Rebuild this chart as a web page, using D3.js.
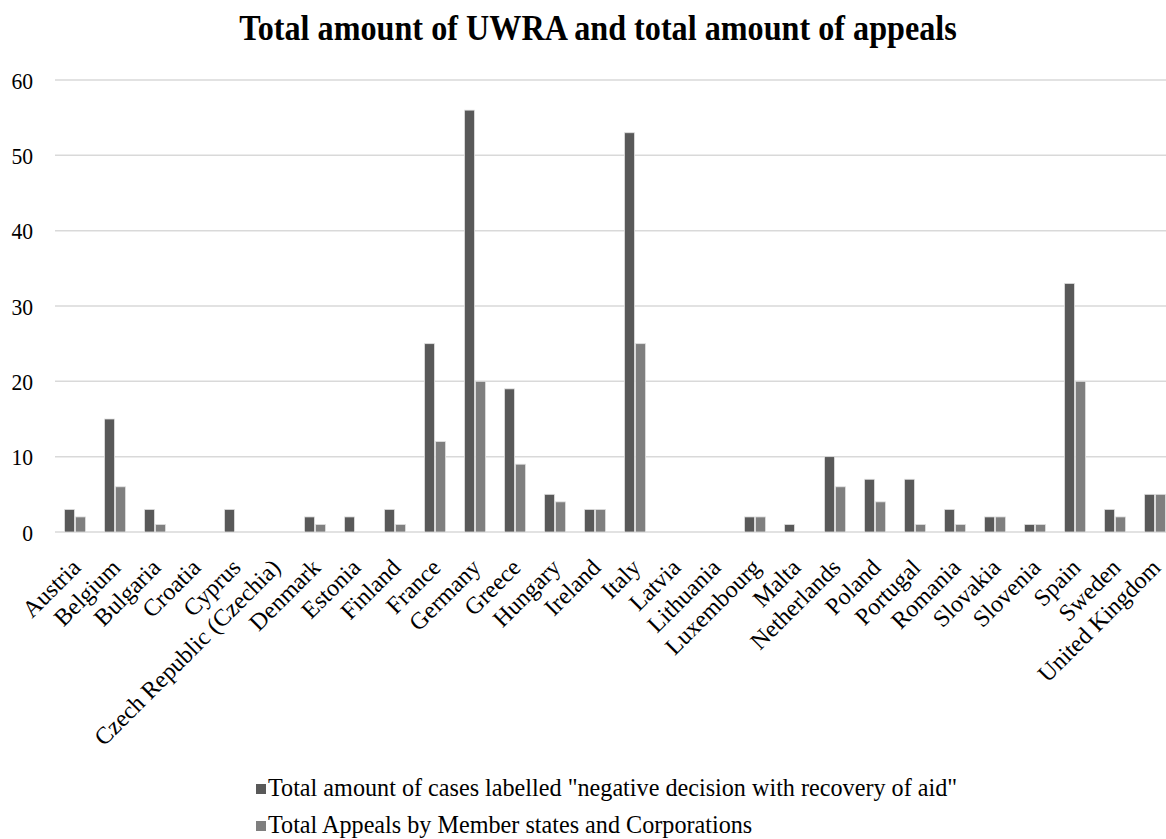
<!DOCTYPE html>
<html>
<head>
<meta charset="utf-8">
<script src="https://cdn.jsdelivr.net/npm/d3@7"></script>
<style>
  html, body { margin: 0; padding: 0; background: #fff; }
  svg { display: block; }
  text { font-family: "Liberation Serif", "Times New Roman", serif; fill: #000; }
</style>
</head>
<body>
<script>
const countries = ["Austria","Belgium","Bulgaria","Croatia","Cyprus","Czech Republic (Czechia)","Denmark","Estonia","Finland","France","Germany","Greece","Hungary","Ireland","Italy","Latvia","Lithuania","Luxembourg","Malta","Netherlands","Poland","Portugal","Romania","Slovakia","Slovenia","Spain","Sweden","United Kingdom"];
const uwra    = [3,15,3,0,3,0,2,2,3,25,56,19,5,3,53,0,0,2,1,10,7,7,3,2,1,33,3,5];
const appeals = [2,6,1,0,0,0,1,0,1,12,20,9,4,3,25,0,0,2,0,6,4,1,1,2,1,20,2,5];
const seriesNames = ['Total amount of cases labelled "negative decision with recovery of aid"', 'Total Appeals by Member states and Corporations'];
const seriesColors = ["#595959", "#7f7f7f"];
const yTicks = [0,10,20,30,40,50,60];
const title = "Total amount of UWRA and total amount of appeals";

const W = 1166, H = 839;
const SX = 0.9; // horizontal text compression seen in the reference
const svg = d3.select("body").append("svg").attr("width", W).attr("height", H);

const x0 = d3.scaleBand().domain(countries).range([55, 1175]).paddingInner(0.475).paddingOuter(0.2375);
const x1 = d3.scaleBand().domain([0,1]).range([0, x0.bandwidth()]).paddingInner(0.1);
const y = d3.scaleLinear().domain([0, 60]).range([532, 80]);

// title
svg.append("text").attr("transform", `translate(598,40) scale(0.92,1)`).attr("text-anchor", "middle")
  .style("font-size", "35px").style("font-weight", "bold").text(title);

// gridlines
svg.append("g").selectAll("line").data(yTicks).join("line")
  .attr("x1", 55).attr("x2", W).attr("y1", d => y(d)).attr("y2", d => y(d))
  .attr("stroke", "#d9d9d9").attr("stroke-width", 1.5);

// y axis labels
const yAxis = d3.axisLeft(y).tickValues(yTicks).tickSize(0).tickPadding(0);
const gy = svg.append("g").attr("transform", "translate(33,0)").call(yAxis)
  .attr("font-family", null).attr("font-size", null);
gy.select(".domain").remove();
gy.selectAll("text").attr("x", 0).attr("dy", null).attr("y", 8)
  .attr("transform", `scale(${SX},1)`)
  .style("font-size", "24px").style("font-family", '"Liberation Serif", serif').attr("fill", "#000");

// bars
const data = countries.map((c, i) => ({c, v: [uwra[i], appeals[i]]}));
const groups = svg.append("g").selectAll("g").data(data).join("g")
  .attr("transform", d => `translate(${x0(d.c)},0)`);
groups.selectAll("rect").data(d => d.v.map((v, k) => ({v, k}))).join("rect")
  .attr("x", d => x1(d.k)).attr("width", x1.bandwidth())
  .attr("y", d => y(d.v)).attr("height", d => y(0) - y(d.v))
  .attr("fill", d => seriesColors[d.k])
  .attr("stroke", "#e0e0e0").attr("stroke-width", 0.8);

// x labels
const xAxis = d3.axisBottom(x0).tickSize(0).tickPadding(0);
const gx = svg.append("g").attr("transform", "translate(0,532)").call(xAxis)
  .attr("font-family", null).attr("font-size", null);
gx.select(".domain").remove();
gx.selectAll("text")
  .style("font-size", "24px").style("font-family", '"Liberation Serif", serif').attr("fill", "#000")
  .attr("text-anchor", "end").attr("dy", null).attr("y", 0)
  .attr("transform", `translate(7,37) rotate(-45)`);

// legend
const lg = svg.append("g").selectAll("g").data(seriesNames).join("g")
  .attr("transform", (d, i) => `translate(256,${796 + i * 37})`);
lg.append("rect").attr("x", 0).attr("y", -12).attr("width", 10).attr("height", 10)
  .attr("fill", (d, i) => seriesColors[i]);
lg.append("text").attr("transform", "translate(12,0) scale(0.93,1)")
  .style("font-size", "26px").text(d => d);
</script>
</body>
</html>
